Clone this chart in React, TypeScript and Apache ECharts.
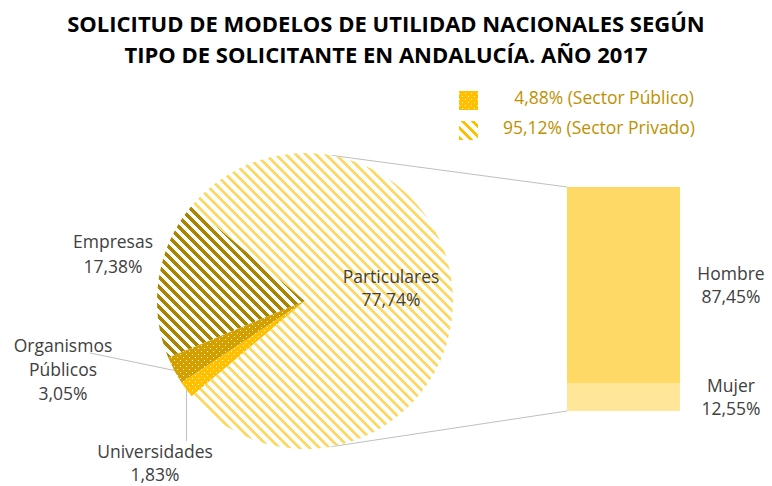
import React, { useEffect, useRef } from 'react';
import * as echarts from 'echarts';

const titleLines = [
  'SOLICITUD DE MODELOS DE UTILIDAD NACIONALES SEGÚN',
  'TIPO DE SOLICITANTE EN ANDALUCÍA. AÑO 2017',
];
const pieNames = ['Empresas', 'Organismos\nPúblicos', 'Universidades', 'Particulares'];
const pieValues = [17.38, 3.05, 1.83, 77.74];
const barNames = ['Mujer', 'Hombre'];
const barValues = [12.55, 87.45];
const legendLabels = ['4,88% (Sector Público)', '95,12% (Sector Privado)'];

const FONT = '"Open Sans", Lato, sans-serif';
const CX = 305;
const CY = 301;
const R = 148;
const BAR_LEFT = 567;
const BAR_TOP = 187;
const BAR_W = 113;
const BAR_H = 224;
const LABEL_SIZE = 17.5;

function makeStripes(fg: string, bg: string | null, size = 10, w = 4) {
  const c = document.createElement('canvas');
  c.width = size;
  c.height = size;
  const ctx = c.getContext('2d')!;
  if (bg) {
    ctx.fillStyle = bg;
    ctx.fillRect(0, 0, size, size);
  }
  ctx.fillStyle = fg;
  for (let y = 0; y < size; y++) {
    for (let k = 0; k < w; k++) ctx.fillRect((y + k) % size, y, 1, 1);
  }
  return c;
}

function makeDots(bg: string, size = 6) {
  const c = document.createElement('canvas');
  c.width = size;
  c.height = size;
  const ctx = c.getContext('2d')!;
  ctx.fillStyle = bg;
  ctx.fillRect(0, 0, size, size);
  ctx.fillStyle = 'rgba(255,255,255,0.9)';
  ctx.fillRect(0, 0, 1, 1);
  ctx.fillRect(size / 2, size / 2, 1, 1);
  return c;
}

const fmt = (v: number) => v.toFixed(2).replace('.', ',') + '%';

export default function App() {
  const ref = useRef<HTMLDivElement>(null);
  useEffect(() => {
    if (!ref.current) return;
    const chart = echarts.init(ref.current, undefined, { renderer: 'svg' });

    const patParticulares = { image: makeStripes('#FFD966', '#FFFFFF', 10, 4), repeat: 'repeat' };
    const patEmpresas = { image: makeStripes('#A98500', '#FFFFFF', 10, 5), repeat: 'repeat' };
    const patOrganismos = { image: makeDots('#D4A000'), repeat: 'repeat' };
    const patUniversidades = { image: makeDots('#FFC000'), repeat: 'repeat' };
    const patLegendDots = { image: makeDots('#FFC000'), repeat: 'repeat' };
    const patLegendStripes = { image: makeStripes('#FFC000', '#FFFFFF', 10, 4), repeat: 'repeat' };

    const pieColors: any[] = [patEmpresas, patOrganismos, patUniversidades, patParticulares];
    const labelCenters: [number, number][] = [
      [113, 253],
      [63, 369],
      [155, 462],
      [391, 287],
    ];
    const labelLineHeights = [25, 24, 23, 23];
    const showLine = [false, true, true, false];
    const barColors = ['#FFE699', '#FFD966'];

    const a = (80 * Math.PI) / 180;
    const topPt = [CX + R * Math.cos(a), CY - R * Math.sin(a)];
    const botPt = [CX + R * Math.cos(a), CY + R * Math.sin(a)];

    chart.setOption({
      animation: false,
      title: {
        text: titleLines.join('\n'),
        left: 'center',
        top: 7,
        padding: 0,
        textStyle: {
          fontFamily: FONT,
          fontWeight: 'bold',
          fontSize: 22,
          lineHeight: 31,
          color: '#000000',
        },
      },
      grid: { left: BAR_LEFT, top: BAR_TOP, width: BAR_W, height: BAR_H },
      xAxis: { type: 'category', data: ['Particulares'], show: false },
      yAxis: { type: 'value', min: 0, max: 100, show: false },
      graphic: [
        {
          type: 'line',
          shape: { x1: topPt[0], y1: topPt[1], x2: BAR_LEFT, y2: BAR_TOP },
          style: { stroke: '#BFBFBF', lineWidth: 1 },
          silent: true,
        },
        {
          type: 'line',
          shape: { x1: botPt[0], y1: botPt[1], x2: BAR_LEFT, y2: BAR_TOP + BAR_H },
          style: { stroke: '#BFBFBF', lineWidth: 1 },
          silent: true,
        },
        {
          type: 'rect',
          shape: { x: 459, y: 91, width: 19, height: 19 },
          style: { fill: patLegendDots as any },
          silent: true,
        },
        {
          type: 'rect',
          shape: { x: 459, y: 121, width: 19, height: 19 },
          style: { fill: patLegendStripes as any },
          silent: true,
        },
        {
          type: 'text',
          right: 78,
          top: 88,
          style: {
            text: legendLabels[0],
            fill: '#BF9000',
            font: `${LABEL_SIZE}px ${FONT}`,
            textAlign: 'right',
          },
          silent: true,
        },
        {
          type: 'text',
          right: 77,
          top: 118,
          style: {
            text: legendLabels[1],
            fill: '#BF9000',
            font: `${LABEL_SIZE}px ${FONT}`,
            textAlign: 'right',
          },
          silent: true,
        },
      ],
      series: [
        {
          type: 'pie',
          center: [CX, CY],
          radius: R,
          startAngle: (pieValues[3] / 100) * 180,
          clockwise: false,
          silent: true,
          label: {
            show: true,
            position: 'outside',
            formatter: (p: any) => `${p.name}\n${fmt(p.value)}`,
            fontFamily: FONT,
            fontSize: LABEL_SIZE,
            lineHeight: 23,
            color: '#404040',
            align: 'center',
          },
          labelLine: {
            show: true,
            length: 10,
            length2: 10,
            lineStyle: { color: '#BFBFBF', width: 1 },
          },
          labelLayout: (params: any) => {
            const i = params.dataIndex;
            const [x, y] = labelCenters[i];
            const res: any = { x, y, align: 'center', verticalAlign: 'middle' };
            if (showLine[i] && params.labelLinePoints) {
              const p0 = params.labelLinePoints[0];
              const h = params.labelRect.height;
              if (i === 1) {
                const end = [x + 27, y - h / 2 + 20];
                res.labelLinePoints = [p0, [(p0[0] + end[0]) / 2, (p0[1] + end[1]) / 2], end];
              } else {
                const end = [p0[0], y - h / 2 + 2];
                res.labelLinePoints = [p0, [p0[0], (p0[1] + end[1]) / 2], end];
              }
            }
            return res;
          },
          data: pieNames.map((n, i) => ({
            name: n,
            value: pieValues[i],
            itemStyle: { color: pieColors[i], borderWidth: 0 },
            label: { lineHeight: labelLineHeights[i] },
            labelLine: { show: showLine[i] },
          })),
        },
        ...barNames.map((n, i) => ({
          type: 'bar',
          name: n,
          stack: 'p',
          barWidth: '100%',
          silent: true,
          itemStyle: { color: barColors[i] },
          label: {
            show: true,
            position: [164, '50%'],
            align: 'center',
            verticalAlign: 'middle',
            formatter: () => `${n}\n${fmt(barValues[i])}`,
            fontFamily: FONT,
            fontSize: LABEL_SIZE,
            lineHeight: 23,
            color: '#404040',
          },
          data: [barValues[i]],
        })),
      ],
    });
    return () => chart.dispose();
  }, []);
  return (
    <div
      ref={ref}
      style={{ position: 'absolute', left: 0, top: 0, width: 772, height: 486, background: '#fff' }}
    />
  );
}
